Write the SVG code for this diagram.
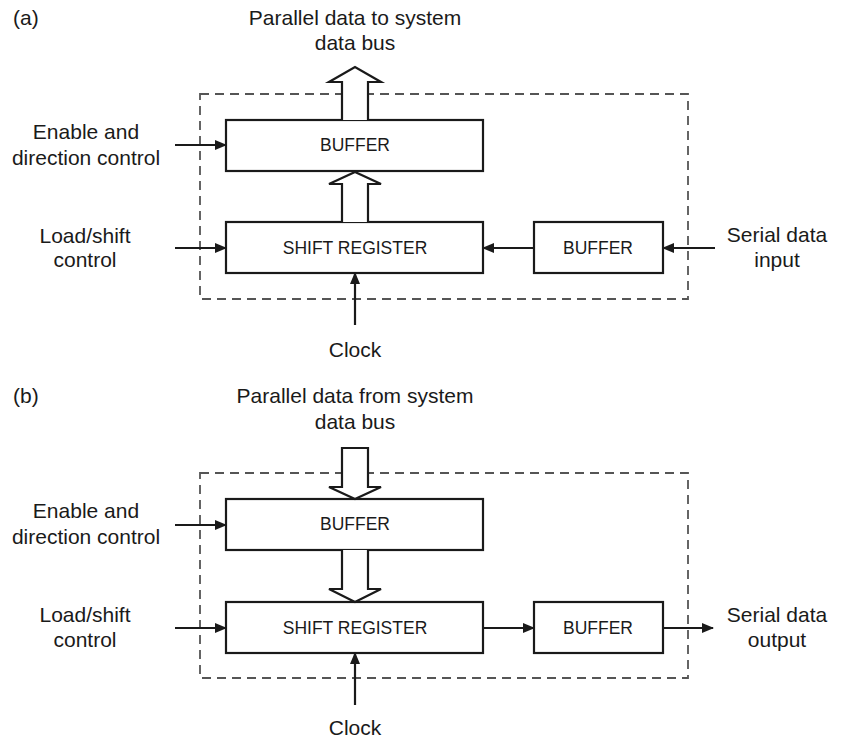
<svg xmlns="http://www.w3.org/2000/svg" width="841" height="739" viewBox="0 0 841 739">
<style>
text{font-family:"Liberation Sans",Arial,sans-serif;fill:#1a1a1a}
.lbl{font-size:21px;text-anchor:middle}
.box{fill:#fff;stroke:#1a1a1a;stroke-width:2.2}
.bt{font-size:17.5px;text-anchor:middle}
.dash{fill:none;stroke:#555;stroke-width:1.8;stroke-dasharray:9 6}
.ln{stroke:#1a1a1a;stroke-width:2.2;fill:none;marker-end:url(#ah)}
.wide{fill:#fff;stroke:#1a1a1a;stroke-width:2.2;stroke-linejoin:miter}
</style>
<defs>
<marker id="ah" markerWidth="12" markerHeight="10" refX="11" refY="5" orient="auto" markerUnits="userSpaceOnUse">
<path d="M0,0 L12,5 L0,10 Z" fill="#1a1a1a"/>
</marker>
</defs>
<rect width="841" height="739" fill="#fff"/>

<!-- Part (a) -->
<g id="a-labels">
<text x="13" y="25" font-size="21px">(a)</text>
<text class="lbl" x="355" y="25">Parallel data to system</text>
<text class="lbl" x="355" y="50">data bus</text>
<text class="lbl" x="86" y="139">Enable and</text>
<text class="lbl" x="86" y="165">direction control</text>
<text class="lbl" x="85" y="243">Load/shift</text>
<text class="lbl" x="85" y="267">control</text>
<text class="lbl" x="777" y="242">Serial data</text>
<text class="lbl" x="777" y="267">input</text>
<text class="lbl" x="355" y="357">Clock</text>
</g>
<rect id="a-boundary" class="dash" x="200" y="94" width="488" height="205"/>
<g id="a-buffer-top"><rect class="box" x="226" y="120" width="257" height="51"/><text class="bt" x="355" y="151">BUFFER</text></g>
<g id="a-shift-register"><rect class="box" x="226" y="222" width="257" height="51"/><text class="bt" x="355" y="254">SHIFT REGISTER</text></g>
<g id="a-buffer-serial"><rect class="box" x="534" y="222" width="129" height="51"/><text class="bt" x="598" y="254">BUFFER</text></g>
<g id="a-connectors">
<path class="wide" d="M342,120 V82 H329 L355,67 L381,82 H368 V120"/>
<path class="wide" d="M342,222 V184 H329 L355,172 L381,184 H368 V222"/>
<line class="ln" x1="175" y1="145" x2="226" y2="145"/>
<line class="ln" x1="175" y1="248" x2="226" y2="248"/>
<line class="ln" x1="534" y1="248" x2="483" y2="248"/>
<line class="ln" x1="715" y1="248" x2="663" y2="248"/>
<line class="ln" x1="355" y1="325" x2="355" y2="273"/>
</g>

<!-- Part (b) -->
<g id="b-labels">
<text x="13" y="403" font-size="21px">(b)</text>
<text class="lbl" x="355" y="403">Parallel data from system</text>
<text class="lbl" x="355" y="429">data bus</text>
<text class="lbl" x="86" y="518">Enable and</text>
<text class="lbl" x="86" y="544">direction control</text>
<text class="lbl" x="85" y="622">Load/shift</text>
<text class="lbl" x="85" y="647">control</text>
<text class="lbl" x="777" y="622">Serial data</text>
<text class="lbl" x="777" y="647">output</text>
<text class="lbl" x="355" y="735">Clock</text>
</g>
<rect id="b-boundary" class="dash" x="200" y="473" width="488" height="205"/>
<g id="b-buffer-top"><rect class="box" x="226" y="499" width="257" height="51"/><text class="bt" x="355" y="530">BUFFER</text></g>
<g id="b-shift-register"><rect class="box" x="226" y="602" width="257" height="51"/><text class="bt" x="355" y="634">SHIFT REGISTER</text></g>
<g id="b-buffer-serial"><rect class="box" x="534" y="602" width="129" height="51"/><text class="bt" x="598" y="634">BUFFER</text></g>
<g id="b-connectors">
<path class="wide" d="M342,448 H368 V487 H381 L355,499 L329,487 H342 Z"/>
<path class="wide" d="M342,550 V589 H329 L355,602 L381,589 H368 V550"/>
<line class="ln" x1="175" y1="525" x2="226" y2="525"/>
<line class="ln" x1="175" y1="628" x2="226" y2="628"/>
<line class="ln" x1="483" y1="628" x2="534" y2="628"/>
<line class="ln" x1="663" y1="628" x2="713" y2="628"/>
<line class="ln" x1="355" y1="705" x2="355" y2="653"/>
</g>
</svg>
